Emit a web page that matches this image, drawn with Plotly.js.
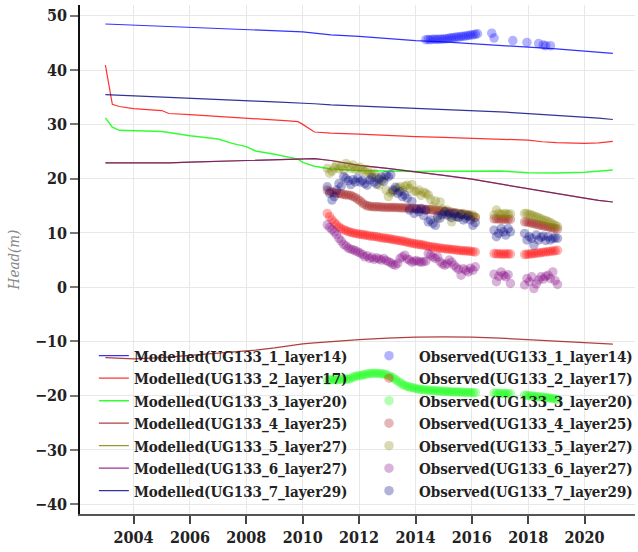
<!DOCTYPE html>
<html>
<head>
<meta charset="utf-8">
<script src="https://cdn.plot.ly/plotly-3.0.1.min.js"></script>
<style>html,body{margin:0;padding:0;background:#fff;}#chart{width:638px;height:552px;}</style>
</head>
<body>
<div id="chart"></div>
<script>
// ---- Modelled series (shared dates) ----
const modDates = ["2003-01-01","2003-04-01","2003-07-01","2004-01-01","2005-01-01","2005-04-01","2006-01-01","2007-01-01","2007-07-01","2008-01-01","2008-05-01","2009-01-01","2009-07-01","2009-11-01","2010-01-01","2010-06-01","2011-01-01","2012-01-01","2013-01-01","2014-01-01","2015-01-01","2016-01-01","2017-01-01","2018-01-01","2018-07-01","2019-01-01","2020-01-01","2020-07-01","2021-01-01"];
const mod1 = [48.5,48.45,48.4,48.3,48.1,48.05,47.95,47.75,47.6,47.45,47.4,47.3,47.2,47.15,47.05,46.8,46.5,46.2,45.8,45.45,45.2,44.9,44.6,44.3,44.1,43.9,43.5,43.3,43.1];
const mod2 = [40.9,33.7,33.3,32.9,32.55,32.0,31.8,31.5,31.3,31.1,31.0,30.8,30.65,30.5,30.0,28.6,28.4,28.2,27.95,27.75,27.6,27.45,27.3,27.1,26.8,26.65,26.5,26.6,26.85];
const mod3 = [31.2,29.5,28.9,28.8,28.7,28.5,27.9,27.3,26.5,25.9,25.1,24.5,24.0,23.6,23.0,22.3,21.8,21.5,21.4,21.3,21.35,21.35,21.4,21.1,21.05,21.05,21.2,21.35,21.6];
const mod4 = [-13.0,-13.05,-13.1,-13.2,-13.0,-12.9,-12.5,-12.1,-11.9,-11.75,-11.6,-11.2,-10.8,-10.55,-10.45,-10.25,-10.0,-9.65,-9.4,-9.2,-9.15,-9.2,-9.4,-9.65,-9.8,-9.95,-10.2,-10.35,-10.5];
const mod5 = [22.9,22.9,22.85,22.8,22.85,22.9,23.05,23.2,23.3,23.4,23.45,23.55,23.6,23.65,23.7,23.7,23.35,22.45,21.9,21.3,20.6,19.9,19.0,18.1,17.7,17.3,16.4,16.0,15.7];
const mod6 = [22.9,22.9,22.85,22.8,22.85,22.9,23.05,23.2,23.3,23.4,23.45,23.55,23.6,23.65,23.7,23.7,23.35,22.45,21.9,21.3,20.6,19.9,19.0,18.1,17.7,17.3,16.4,16.0,15.7];
const mod7 = [35.5,35.45,35.4,35.3,35.1,35.05,34.9,34.65,34.55,34.4,34.3,34.15,34.05,33.95,33.9,33.8,33.6,33.4,33.2,33.0,32.8,32.6,32.3,32.0,31.85,31.7,31.4,31.15,30.9];

// ---- Observed series 1 ----
const obs1Dates = ["2014-05-15","2014-06-15","2014-07-15","2014-08-15","2014-09-15","2014-10-15","2014-11-15","2014-12-15","2015-01-15","2015-02-15","2015-03-15","2015-04-15","2015-05-15","2015-06-15","2015-07-15","2015-08-15","2015-09-15","2015-10-15","2015-11-15","2015-12-15","2016-01-15","2016-02-15","2016-03-15","2016-09-15","2016-10-15","2017-06-15","2017-12-15","2018-05-15","2018-07-15","2018-08-15","2018-10-15"];
const obs1 = [45.6,45.65,45.6,45.7,45.7,45.65,45.75,45.7,45.8,45.8,45.9,45.95,46.0,46.1,46.1,46.2,46.25,46.3,46.4,46.45,46.5,46.6,46.7,46.8,45.9,45.45,45.1,44.9,44.65,44.5,44.5];

// ---- Observed series 2-7 (shared dates) ----
const obsDates = [
 "2010-11-15","2010-12-15",
 "2011-01-15","2011-02-15","2011-03-15","2011-04-15","2011-05-15","2011-06-15","2011-07-15","2011-08-15","2011-09-15","2011-10-15","2011-11-15","2011-12-15",
 "2012-01-15","2012-02-15","2012-03-15","2012-04-15","2012-05-15","2012-06-15","2012-07-15","2012-08-15","2012-09-15","2012-10-15","2012-11-15","2012-12-15",
 "2013-01-15","2013-02-15","2013-03-15","2013-04-15","2013-05-15","2013-06-15","2013-07-15","2013-08-15","2013-09-15","2013-10-15","2013-11-15","2013-12-15",
 "2014-01-15","2014-02-15","2014-03-15","2014-04-15","2014-05-15","2014-06-15","2014-07-15","2014-08-15","2014-09-15","2014-10-15","2014-11-15","2014-12-15",
 "2015-01-15","2015-02-15","2015-03-15","2015-04-15","2015-05-15","2015-06-15","2015-07-15","2015-08-15","2015-09-15","2015-10-15","2015-11-15","2015-12-15",
 "2016-01-15","2016-02-15",
 "2016-10-15","2016-11-15","2016-12-15","2017-01-15","2017-02-15","2017-03-15","2017-04-15","2017-05-15",
 "2017-11-15","2017-12-15","2018-01-15","2018-02-15","2018-03-15","2018-04-15","2018-05-15","2018-06-15","2018-07-15","2018-08-15","2018-09-15","2018-10-15","2018-11-15","2018-12-15","2019-01-15"];
const obs2 = [
 13.6,13.0,
 12.4,11.9,11.5,11.1,10.8,10.6,10.4,10.25,10.1,10.0,9.9,9.8,
 9.75,9.7,9.6,9.55,9.45,9.4,9.35,9.3,9.2,9.1,9.05,9.0,
 8.95,8.85,8.8,8.7,8.65,8.55,8.5,8.4,8.3,8.2,8.1,8.0,
 7.95,7.9,7.8,7.75,7.65,7.55,7.45,7.4,7.35,7.25,7.2,7.15,
 7.1,7.05,7.0,6.95,6.9,6.85,6.8,6.75,6.7,6.7,6.65,6.6,
 6.55,6.5,
 6.2,6.15,6.15,6.1,6.1,6.1,6.15,6.1,
 6.0,6.05,6.1,6.15,6.2,6.25,6.3,6.35,6.45,6.5,6.55,6.6,6.65,6.7,6.8];
const obs3 = [
 -17.2,-17.1,
 -17.0,-17.0,-17.1,-17.0,-17.0,-16.9,-16.9,-17.0,-16.8,-16.6,-16.4,-16.3,
 -16.3,-16.2,-16.1,-16.0,-15.9,-15.9,-15.85,-15.9,-15.9,-15.95,-16.0,-16.1,
 -16.3,-16.5,-16.7,-17.0,-17.3,-17.6,-17.9,-18.1,-18.3,-18.4,-18.5,-18.6,
 -18.7,-18.8,-18.85,-18.9,-18.95,-19.0,-19.0,-19.05,-19.1,-19.1,-19.15,-19.2,
 -19.2,-19.2,-19.25,-19.25,-19.3,-19.3,-19.3,-19.35,-19.35,-19.4,-19.4,-19.4,
 -19.45,-19.45,
 -19.5,-19.55,-19.55,-19.6,-19.6,-19.6,-19.65,-19.65,
 -19.9,-19.95,-20.0,-20.05,-20.1,-20.15,-20.2,-20.25,-20.3,-20.35,-20.4,-20.45,-20.5,-20.6,-20.7];
const obs4 = [
 17.9,17.7,
 17.5,17.4,17.3,17.3,17.2,17.1,17.0,17.0,16.9,16.7,16.5,16.2,
 15.9,15.5,15.2,15.0,14.9,14.85,14.8,14.8,14.8,14.75,14.75,14.7,
 14.7,14.7,14.7,14.7,14.65,14.65,14.6,14.6,14.6,14.55,14.5,14.5,
 14.45,14.4,14.4,14.35,14.3,14.3,14.25,14.2,14.2,14.15,14.1,14.05,
 14.0,13.9,13.85,13.8,13.7,13.65,13.55,13.5,13.4,13.35,13.3,13.15,
 13.0,12.85,
 12.6,12.6,12.55,12.55,12.5,12.55,12.5,12.5,
 12.05,12.0,11.9,11.8,11.7,11.6,11.5,11.4,11.3,11.2,11.1,11.0,10.9,10.8,10.7];
const obs5 = [
 21.9,21.0,
 21.4,22.0,22.5,21.8,22.2,21.6,22.8,22.3,21.9,22.5,21.7,21.9,
 22.1,21.6,21.3,21.6,20.9,20.7,21.0,20.2,18.8,19.6,20.05,17.9,
 16.7,17.4,17.6,17.9,18.3,18.5,17.8,18.6,18.8,18.2,18.9,17.7,
 17.6,17.9,16.9,17.5,17.3,17.0,16.2,14.8,15.9,12.7,15.7,14.4,
 13.6,14.2,13.1,12.05,13.3,13.6,12.9,13.5,13.6,13.2,13.4,13.0,
 13.3,12.9,
 13.3,14.2,13.6,13.4,13.5,13.6,13.4,13.5,
 13.6,13.6,13.4,13.3,13.1,13.0,12.8,12.6,12.4,12.3,12.1,11.9,11.6,11.4,11.2];
const obs6 = [
 11.5,11.0,
 10.6,10.2,9.7,9.0,8.5,7.9,7.6,7.2,7.0,6.9,6.7,6.5,
 6.3,6.0,5.6,5.8,5.3,5.5,5.1,5.4,5.2,5.0,5.3,4.9,
 4.7,4.5,4.2,4.05,4.4,5.3,5.6,5.9,5.2,5.0,4.6,4.8,
 4.9,4.7,4.6,4.7,4.8,6.2,5.9,5.6,5.3,5.6,4.7,4.3,
 4.05,4.3,5.0,4.6,4.05,3.6,3.3,2.2,3.4,3.1,2.8,3.5,
 3.1,3.75,
 2.4,1.0,2.0,2.8,2.2,1.9,2.3,0.7,
 0.4,1.6,1.0,1.9,-0.25,0.6,1.3,1.9,1.5,2.0,2.2,1.6,2.8,1.2,0.5];
const obs7 = [
 18.5,17.3,
 16.05,16.7,17.9,19.1,18.6,20.35,20.05,19.6,18.9,19.8,19.4,20.1,
 19.4,19.7,19.1,18.8,19.75,20.2,19.4,19.0,19.9,20.35,19.5,20.6,
 20.35,20.7,17.9,18.4,17.3,17.6,16.7,17.0,16.4,14.2,15.8,13.6,
 14.4,13.9,14.5,13.2,14.2,12.05,12.4,11.75,11.4,13.1,12.7,13.4,
 13.9,13.3,13.6,12.8,13.6,13.0,12.9,13.4,12.4,12.7,13.1,12.4,
 11.4,11.9,
 10.5,9.3,9.9,10.8,10.2,9.6,10.8,10.2,
 9.9,8.7,9.3,9.0,7.75,9.6,8.7,9.2,9.4,8.6,9.3,8.7,9.0,9.1,9.0];

const names = ["UG133_1_layer14","UG133_2_layer17","UG133_3_layer20","UG133_4_layer25","UG133_5_layer27","UG133_6_layer27","UG133_7_layer29"];
const colors = ["#0000ff","#ff0000","#00ff00","#a01010","#808000","#800080","#000080"];
const modVals = [mod1,mod2,mod3,mod4,mod5,mod6,mod7];
const obsX = [obs1Dates,obsDates,obsDates,obsDates,obsDates,obsDates,obsDates];
const obsVals = [obs1,obs2,obs3,obs4,obs5,obs6,obs7];

const FONT = "'DejaVu Serif Condensed', 'DejaVu Serif', serif";
const traces = [];
for (let i = 0; i < 7; i++) {
  traces.push({x: modDates, y: modVals[i], type: 'scatter', mode: 'lines', name: 'Modelled(' + names[i] + ')',
    line: {color: colors[i], width: i === 2 ? 1.5 : 1.2}, opacity: 0.8, legend: 'legend'});
}
for (let i = 0; i < 7; i++) {
  traces.push({x: obsX[i], y: obsVals[i], type: 'scatter', mode: 'markers', name: 'Observed(' + names[i] + ')',
    marker: {color: colors[i], size: 9.5, opacity: 0.3, line: {width: 0}}, legend: 'legend2'});
}

const layout = {
  width: 638, height: 552,
  margin: {l: 80, r: 0, t: 5, b: 38},
  paper_bgcolor: '#fff', plot_bgcolor: '#fff',
  font: {family: FONT, size: 15, color: '#222'},
  showlegend: true,
  xaxis: {type: 'date', range: ['2002-02-06', '2021-10-15'], dtick: 'M24', tick0: '2004-01-01',
    tickformat: '%Y', showgrid: true, gridcolor: '#e8e8e8', gridwidth: 1,
    showline: true, linecolor: '#555', linewidth: 2, ticks: 'outside', ticklen: 8, tickwidth: 1.5, tickcolor: '#444',
    tickfont: {family: FONT, size: 16, weight: 'bold', color: '#222'}, zeroline: false},
  yaxis: {range: [-41.8, 52], dtick: 10, showgrid: true, gridcolor: '#e8e8e8', gridwidth: 1,
    showline: true, linecolor: '#111', linewidth: 1.5, ticks: 'outside', ticklen: 8, tickwidth: 1.5, tickcolor: '#777',
    tickfont: {family: FONT, size: 16, weight: 'bold', color: '#222'}, zeroline: false,
    title: {text: 'Head(m)', font: {family: FONT, size: 15, style: 'italic', color: '#888'}, standoff: 12}},
  legend: {x: 0.025, xanchor: 'left', y: 0.343, yanchor: 'top', bgcolor: 'rgba(0,0,0,0)',
    font: {family: FONT, size: 15, weight: 'bold', color: '#222'}, itemwidth: 30},
  legend2: {x: 0.503, xanchor: 'left', y: 0.343, yanchor: 'top', bgcolor: 'rgba(0,0,0,0)',
    font: {family: FONT, size: 15, weight: 'bold', color: '#222'}, itemwidth: 50}
};

Plotly.newPlot('chart', traces, layout, {displayModeBar: false});
</script>
</body>
</html>
